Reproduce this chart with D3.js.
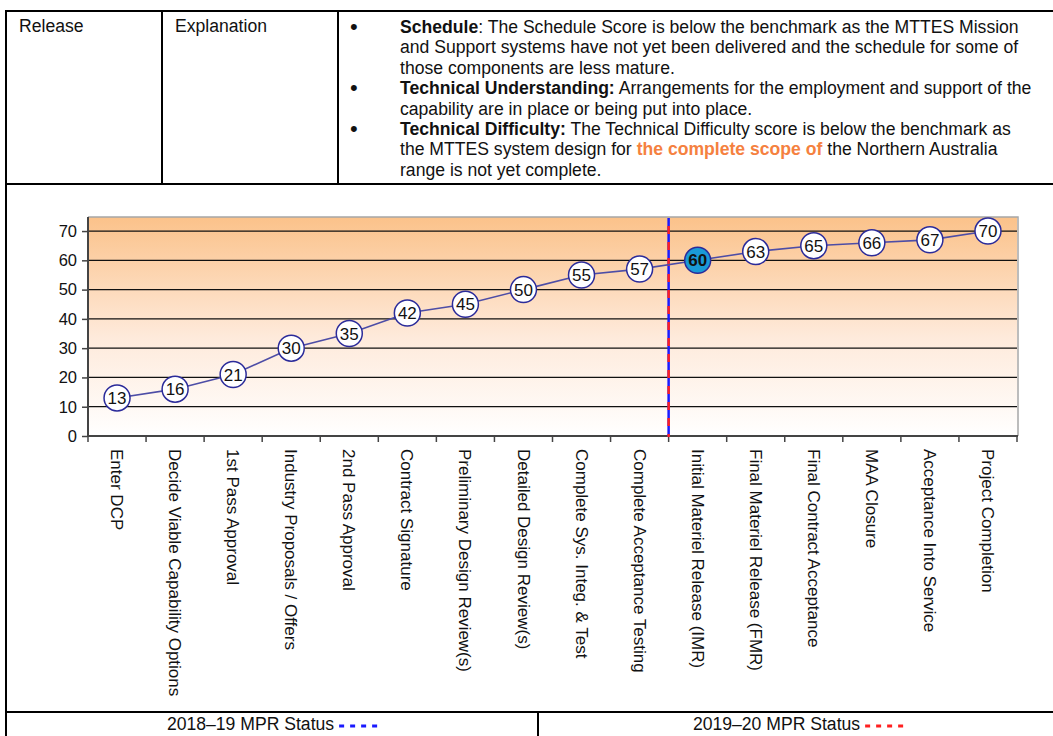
<!DOCTYPE html>
<html>
<head>
<meta charset="utf-8">
<script src="https://cdn.jsdelivr.net/npm/d3@7"></script>
<style>
  html, body { margin: 0; padding: 0; background: #fff; }
  svg { display: block; font-family: "Liberation Sans", Arial, sans-serif; }
</style>
</head>
<body>
<svg id="chart" width="1053" height="736"></svg>
<script>
// Milestone categories along the project lifecycle
const categories = [
  "Enter DCP",
  "Decide Viable Capability Options",
  "1st Pass Approval",
  "Industry Proposals / Offers",
  "2nd Pass Approval",
  "Contract Signature",
  "Preliminary Design Review(s)",
  "Detailed Design Review(s)",
  "Complete Sys. Integ. & Test",
  "Complete Acceptance Testing",
  "Initial Materiel Release (IMR)",
  "Final Materiel Release (FMR)",
  "Final Contract Acceptance",
  "MAA Closure",
  "Acceptance Into Service",
  "Project Completion"
];
// Benchmark maturity score at each milestone
const scores = [13, 16, 21, 30, 35, 42, 45, 50, 55, 57, 60, 63, 65, 66, 67, 70];
const yTicks = [0, 10, 20, 30, 40, 50, 60, 70];
// Milestone reached at the current status point
const currentMilestone = "Initial Materiel Release (IMR)";
const statusLabels = ["2018–19 MPR Status", "2019–20 MPR Status"];
const statusColors = ["#1a1aff", "#ff2020"];

// Explanation text, one entry per rendered line
const explanationLines = [
  { bullet: true,  parts: [{ t: "Schedule", b: true }, { t: ": The Schedule Score is below the benchmark as the MTTES Mission" }] },
  { bullet: false, parts: [{ t: "and Support systems have not yet been delivered and the schedule for some of" }] },
  { bullet: false, parts: [{ t: "those components are less mature." }] },
  { bullet: true,  parts: [{ t: "Technical Understanding:", b: true }, { t: " Arrangements for the employment and support of the" }] },
  { bullet: false, parts: [{ t: "capability are in place or being put into place." }] },
  { bullet: true,  parts: [{ t: "Technical Difficulty:", b: true }, { t: " The Technical Difficulty score is below the benchmark as" }] },
  { bullet: false, parts: [{ t: "the MTTES system design for " }, { t: "the complete scope of", b: true, c: "#f5813f" }, { t: " the Northern Australia" }] },
  { bullet: false, parts: [{ t: "range is not yet complete." }] }
];

const svg = d3.select("#chart");

// ---------- table frame ----------
const frame = svg.append("g").attr("stroke", "#000").attr("stroke-width", 2);
const tbl = { left: 6, right: 1060, top: 11, rowBottom: 184, footTop: 712, bottom: 740 };
frame.append("line").attr("x1", tbl.left).attr("x2", tbl.right).attr("y1", tbl.top).attr("y2", tbl.top);
frame.append("line").attr("x1", tbl.left).attr("x2", tbl.right).attr("y1", tbl.rowBottom).attr("y2", tbl.rowBottom);
frame.append("line").attr("x1", tbl.left).attr("x2", tbl.right).attr("y1", tbl.footTop).attr("y2", tbl.footTop);
frame.append("line").attr("x1", tbl.left).attr("x2", tbl.left).attr("y1", tbl.top - 1).attr("y2", tbl.bottom);
frame.append("line").attr("x1", 162).attr("x2", 162).attr("y1", tbl.top).attr("y2", tbl.rowBottom);
frame.append("line").attr("x1", 338).attr("x2", 338).attr("y1", tbl.top).attr("y2", tbl.rowBottom);
frame.append("line").attr("x1", 538).attr("x2", 538).attr("y1", tbl.footTop).attr("y2", tbl.bottom);

const cellFont = 17.6;
svg.append("text").attr("x", 19).attr("y", 32).attr("font-size", cellFont).attr("fill", "#111").text("Release");
svg.append("text").attr("x", 175).attr("y", 32).attr("font-size", cellFont).attr("fill", "#111").text("Explanation");

const lineGap = 20.4;
explanationLines.forEach((ln, i) => {
  const y = 33 + i * lineGap;
  if (ln.bullet) {
    svg.append("text").attr("x", 350).attr("y", y + 1).attr("font-size", 22).attr("fill", "#111").text("•");
  }
  const t = svg.append("text").attr("x", 400).attr("y", y).attr("font-size", cellFont).attr("fill", "#111");
  ln.parts.forEach(p => {
    t.append("tspan")
      .attr("font-weight", p.b ? "bold" : null)
      .attr("fill", p.c || null)
      .text(p.t);
  });
});

// ---------- chart ----------
const plot = { left: 88, right: 1017, top: 217, bottom: 436 };
const x = d3.scaleBand().domain(categories).range([plot.left, plot.right]);
const y = d3.scaleLinear().domain([0, 74.8]).range([plot.bottom, plot.top]);

const defs = svg.append("defs");
const grad = defs.append("linearGradient").attr("id", "plotFill")
  .attr("x1", 0).attr("y1", 0).attr("x2", 0).attr("y2", 1);
grad.append("stop").attr("offset", 0).attr("stop-color", "#fbc28a");
grad.append("stop").attr("offset", 0.55).attr("stop-color", "#feeadb");
grad.append("stop").attr("offset", 1).attr("stop-color", "#ffffff");

svg.append("rect")
  .attr("x", plot.left).attr("y", plot.top)
  .attr("width", plot.right - plot.left).attr("height", plot.bottom - plot.top)
  .attr("fill", "url(#plotFill)");

// plot border (top and right)
svg.append("path")
  .attr("d", `M${plot.left},${plot.top}H${plot.right + 1}V${plot.bottom}`)
  .attr("fill", "none").attr("stroke", "#a6a6a6").attr("stroke-width", 1.5);

// horizontal gridlines
svg.append("g").selectAll("line").data(yTicks.filter(d => d > 0)).join("line")
  .attr("x1", plot.left).attr("x2", plot.right)
  .attr("y1", d => y(d)).attr("y2", d => y(d))
  .attr("stroke", "#111").attr("stroke-width", 1.3);

// y axis
const yAxis = svg.append("g")
  .attr("transform", `translate(${plot.left},0)`)
  .call(d3.axisLeft(y).tickValues(yTicks).tickSize(6).tickPadding(5));
yAxis.attr("font-size", null).attr("font-family", null);
yAxis.selectAll("text").attr("font-size", 16.5).attr("fill", "#111");
yAxis.selectAll("line").attr("stroke", "#444").attr("stroke-width", 1.5);
yAxis.select(".domain").attr("stroke", "#444").attr("stroke-width", 2).attr("d", `M0,${plot.top}V${plot.bottom}`);

// x axis: ticks on category boundaries
const xAxis = svg.append("g").attr("transform", `translate(0,${plot.bottom})`);
xAxis.append("line").attr("x1", plot.left).attr("x2", plot.right + 1).attr("y1", 0).attr("y2", 0)
  .attr("stroke", "#444").attr("stroke-width", 2);
const boundaries = categories.map(c => x(c)).concat([plot.right]);
xAxis.selectAll("line.tick").data(boundaries).join("line").attr("class", "tick")
  .attr("x1", d => d).attr("x2", d => d).attr("y1", 0).attr("y2", 6)
  .attr("stroke", "#444").attr("stroke-width", 1.5);
xAxis.selectAll("text").data(categories).join("text")
  .attr("transform", d => `translate(${x(d) + x.bandwidth() / 2},13) rotate(90)`)
  .attr("dy", "0.35em")
  .attr("font-size", 17).attr("fill", "#111")
  .text(d => d);

// status divider between the two reporting periods
const divX = x(currentMilestone);
svg.append("line").attr("x1", divX).attr("x2", divX).attr("y1", plot.top + 1).attr("y2", plot.bottom + 1)
  .attr("stroke", statusColors[0]).attr("stroke-width", 2.5);
svg.append("line").attr("x1", divX).attr("x2", divX).attr("y1", plot.top + 1).attr("y2", plot.bottom + 1)
  .attr("stroke", statusColors[1]).attr("stroke-width", 2.5).attr("stroke-dasharray", "8,8").attr("stroke-dashoffset", -8);

// score line
const pts = categories.map((c, i) => ({ c, v: scores[i] }));
svg.append("path")
  .datum(pts)
  .attr("fill", "none").attr("stroke", "#4d4da6").attr("stroke-width", 1.6)
  .attr("d", d3.line().x(d => x(d.c) + x.bandwidth() / 2).y(d => y(d.v)));

const marks = svg.append("g").selectAll("g").data(pts).join("g")
  .attr("transform", d => `translate(${x(d.c) + x.bandwidth() / 2},${y(d.v)})`);
marks.append("circle").attr("r", 13)
  .attr("fill", d => d.c === currentMilestone ? "#1a9ad6" : "#fff")
  .attr("stroke", "#2b2b9a").attr("stroke-width", 1.5);
marks.append("text")
  .attr("text-anchor", "middle").attr("dy", "0.36em")
  .attr("font-size", 17).attr("fill", "#111")
  .attr("font-weight", d => d.c === currentMilestone ? "bold" : null)
  .text(d => d.v);

// ---------- footer row ----------
const footCells = [[tbl.left, 538], [538, 1058]];
statusLabels.forEach((lab, i) => {
  const g = svg.append("g");
  const t = g.append("text").attr("y", 730).attr("font-size", 17.6).attr("fill", "#111").text(lab);
  const w = t.node().getComputedTextLength();
  const dashW = 38;
  const total = w + 5 + dashW;
  const cx = (footCells[i][0] + footCells[i][1]) / 2;
  const x0 = cx - total / 2;
  t.attr("x", x0);
  g.append("line").attr("x1", x0 + w + 5).attr("x2", x0 + w + 5 + dashW)
    .attr("y1", 726).attr("y2", 726)
    .attr("stroke", statusColors[i]).attr("stroke-width", 3).attr("stroke-dasharray", "5,6");
});
</script>
</body>
</html>
